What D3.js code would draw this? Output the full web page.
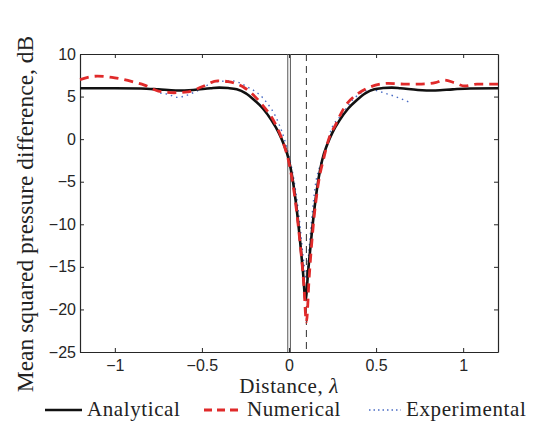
<!DOCTYPE html>
<html>
<head>
<meta charset="utf-8">
<script src="https://cdn.jsdelivr.net/npm/d3@7"></script>
<style>
  body { margin: 0; background: #fff; }
  svg { display: block; }
</style>
</head>
<body>
<div id="chart"></div>
<script>
// distance in wavelengths
const analyticalX = [-1.2, -1.0, -0.85, -0.75, -0.65, -0.55, -0.45, -0.40, -0.35, -0.30, -0.25, -0.20, -0.15, -0.10, -0.06, -0.03, 0.0, 0.02, 0.04, 0.06, 0.08, 0.095, 0.11, 0.13, 0.15, 0.17, 0.19, 0.22, 0.25, 0.29, 0.34, 0.39, 0.44, 0.49, 0.54, 0.59, 0.64, 0.74, 0.84, 0.94, 1.04, 1.2];
const analyticalY = [5.97, 5.98, 5.95, 5.85, 5.72, 5.78, 5.98, 6.05, 6.0, 5.85, 5.4, 4.6, 3.6, 2.2, 0.8, -0.6, -2.5, -4.6, -7.5, -11.2, -15.5, -18.9, -15.5, -11.2, -7.5, -4.6, -2.5, -0.6, 0.8, 2.2, 3.6, 4.6, 5.4, 5.85, 6.0, 6.05, 5.98, 5.78, 5.72, 5.85, 5.95, 5.97];

const numericalX = [-1.2, -1.1, -1.0, -0.9, -0.83, -0.75, -0.66, -0.58, -0.50, -0.41, -0.35, -0.25, -0.16, -0.08, -0.035, 0.0, 0.03, 0.06, 0.085, 0.1, 0.115, 0.14, 0.17, 0.2, 0.225, 0.27, 0.32, 0.40, 0.47, 0.57, 0.66, 0.76, 0.84, 0.89, 0.95, 1.01, 1.08, 1.2];
const numericalY = [7.0, 7.4, 7.2, 6.75, 6.35, 5.65, 5.45, 5.55, 6.15, 6.85, 6.75, 5.95, 4.2, 1.85, -0.3, -2.8, -6.3, -11.5, -17, -21.5, -16.5, -10, -5, -2.2, -0.2, 1.8, 3.8, 5.4, 6.15, 6.55, 6.47, 6.47, 6.63, 6.94, 6.63, 6.24, 6.47, 6.47];

const experimentalX = [-0.74, -0.70, -0.64, -0.58, -0.50, -0.43, -0.33, -0.24, -0.14, -0.06, -0.025, 0.0, 0.03, 0.06, 0.085, 0.1, 0.115, 0.13, 0.15, 0.18, 0.21, 0.24, 0.30, 0.38, 0.47, 0.55, 0.63, 0.70];
const experimentalY = [5.4, 5.3, 4.9, 5.2, 5.95, 6.7, 6.85, 6.15, 4.6, 1.9, -0.1, -2.0, -5, -9.5, -14.5, -16.5, -13, -9.5, -5.6, -3, -1.2, 1.0, 2.8, 4.9, 5.8, 5.4, 4.85, 4.25];

const markersSolid = [-0.007, 0.008];
const markerDashed = 0.1;

const xTicks = [-1, -0.5, 0, 0.5, 1];
const yTicks = [-25, -20, -15, -10, -5, 0, 5, 10];
const legendNames = ["Analytical", "Numerical", "Experimental"];

const width = 544, height = 421;
const margin = {top: 54, right: 46, bottom: 69, left: 80};
const chartWidth = width - margin.left - margin.right;
const chartHeight = height - margin.top - margin.bottom;

const svg = d3.select("#chart").append("svg")
  .attr("width", width)
  .attr("height", height);

const g = svg.append("g")
  .attr("transform", `translate(${margin.left}, ${margin.top})`);

const x = d3.scaleLinear().domain([-1.2, 1.2]).range([0, chartWidth]);
const y = d3.scaleLinear().domain([-25, 10]).range([chartHeight, 0]);

const tickFont = "'Liberation Sans', Arial, sans-serif";
const serif = "'Liberation Serif', 'DejaVu Serif', serif";
const fmt = d3.format("~g");

function styleAxis(sel) {
  sel.select(".domain").attr("stroke", "#262626").attr("stroke-width", 1.2);
  sel.selectAll(".tick line").attr("stroke", "#262626");
  sel.selectAll(".tick text")
    .attr("fill", "#262626")
    .style("font-family", tickFont)
    .style("font-size", "16px");
}

g.append("g")
  .attr("transform", `translate(0, ${chartHeight})`)
  .call(d3.axisBottom(x).tickValues(xTicks).tickFormat(fmt).tickSizeInner(-4).tickSizeOuter(0).tickPadding(7.5))
  .call(styleAxis);

g.append("g")
  .call(d3.axisTop(x).tickValues(xTicks).tickSizeInner(-4).tickSizeOuter(0).tickFormat(""))
  .call(styleAxis);

g.append("g")
  .call(d3.axisLeft(y).tickValues(yTicks).tickFormat(fmt).tickSizeInner(-4).tickSizeOuter(0).tickPadding(4))
  .call(styleAxis);

g.append("g")
  .attr("transform", `translate(${chartWidth}, 0)`)
  .call(d3.axisRight(y).tickValues(yTicks).tickSizeInner(-4).tickSizeOuter(0).tickFormat(""))
  .call(styleAxis);

// reference markers
g.selectAll(".marker")
  .data(markersSolid)
  .enter()
  .append("line")
  .attr("x1", d => x(d)).attr("x2", d => x(d))
  .attr("y1", 0).attr("y2", chartHeight)
  .attr("stroke", "#555")
  .attr("stroke-width", 1);

g.append("line")
  .attr("x1", x(markerDashed)).attr("x2", x(markerDashed))
  .attr("y1", 0).attr("y2", chartHeight)
  .attr("stroke", "#444")
  .attr("stroke-width", 1.1)
  .attr("stroke-dasharray", "7,5");

const line = d3.line()
  .x(d => x(d[0]))
  .y(d => y(d[1]))
  .curve(d3.curveMonotoneX);

const series = [
  {name: "Experimental", xs: experimentalX, ys: experimentalY, color: "#4a6cc4", w: 1.4, dash: "1.5,4"},
  {name: "Analytical", xs: analyticalX, ys: analyticalY, color: "#111", w: 2.6, dash: null},
  {name: "Numerical", xs: numericalX, ys: numericalY, color: "#e02a2a", w: 2.8, dash: "9,6"}
];

series.forEach(s => {
  g.append("path")
    .datum(s.xs.map((v, i) => [v, s.ys[i]]))
    .attr("fill", "none")
    .attr("stroke", s.color)
    .attr("stroke-width", s.w)
    .attr("stroke-dasharray", s.dash)
    .attr("d", line);
});

// axis titles
svg.append("text")
  .attr("x", margin.left + x(0))
  .attr("y", 392.8)
  .attr("text-anchor", "middle")
  .style("font-family", serif)
  .style("font-size", "21px")
  .style("letter-spacing", "0.6px")
  .attr("fill", "#222")
  .html("Distance, <tspan font-style='italic'>λ</tspan>");

svg.append("text")
  .attr("transform", `translate(33, 214) rotate(-90)`)
  .attr("text-anchor", "middle")
  .style("font-family", serif)
  .style("font-size", "23.5px")
  .attr("fill", "#222")
  .text("Mean squared pressure difference, dB");

// legend
const legendItems = [
  {x1: 45, x2: 82, tx: 87, color: "#111", w: 2.6, dash: null},
  {x1: 204, x2: 241, tx: 247, color: "#e02a2a", w: 2.8, dash: "8,5"},
  {x1: 369, x2: 401, tx: 406, color: "#4a6cc4", w: 1.4, dash: "1.5,3"}
];

const legend = svg.append("g");
legendItems.forEach((it, i) => {
  legend.append("line")
    .attr("x1", it.x1).attr("x2", it.x2)
    .attr("y1", 410).attr("y2", 410)
    .attr("stroke", it.color)
    .attr("stroke-width", it.w)
    .attr("stroke-dasharray", it.dash);
  legend.append("text")
    .attr("x", it.tx)
    .attr("y", 416)
    .style("font-family", serif)
    .style("font-size", "21px")
    .style("letter-spacing", "0.6px")
    .attr("fill", "#222")
    .text(legendNames[i]);
});
</script>
</body>
</html>
